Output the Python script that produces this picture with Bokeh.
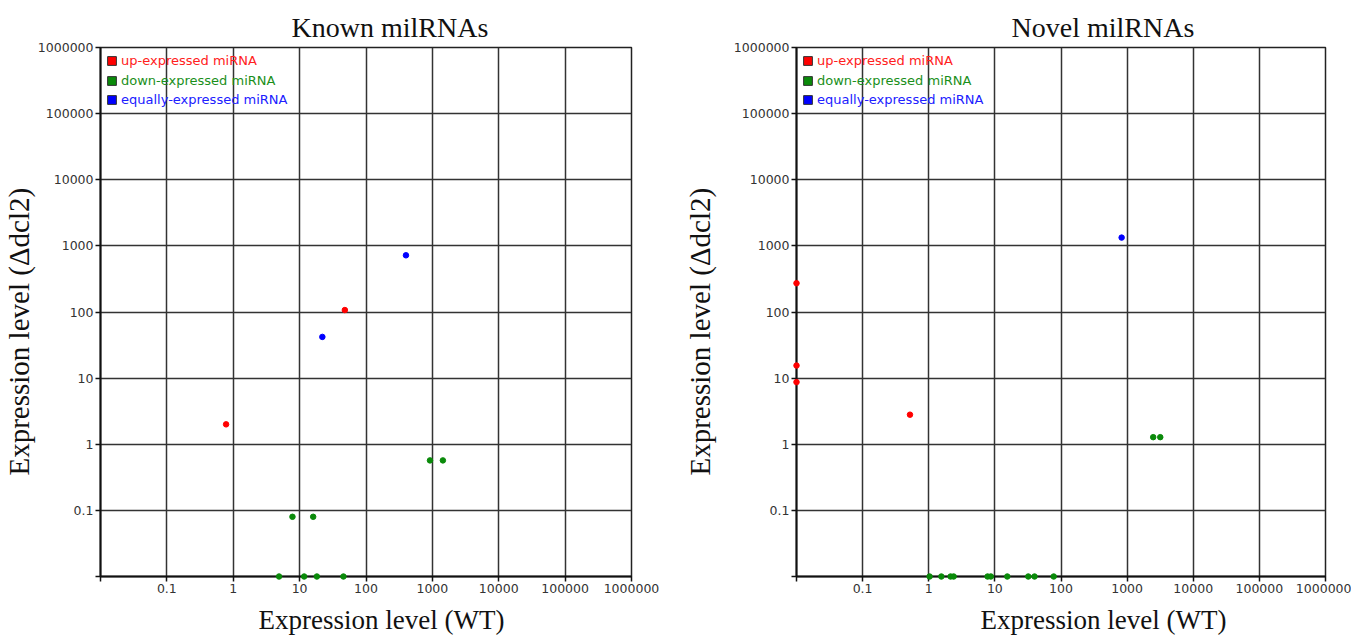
import math
from bokeh.plotting import figure
from bokeh.models import (FixedTicker, CustomJSTickFormatter, Legend, LegendItem,
                          Title, Range1d)
from bokeh.layouts import row
from bokeh.embed import file_html
from bokeh.resources import INLINE

# ---------------- data ----------------
decade_ticks = [0.01, 0.1, 1, 10, 100, 1000, 10000, 100000, 1000000]
decade_labels = ["", "0.1", "1", "10", "100", "1000", "10000", "100000", "1000000"]

series_names = ["up-expressed miRNA", "down-expressed miRNA", "equally-expressed miRNA"]

known_up_x = [0.78, 48]
known_up_y = [2.0, 107]
known_down_x = [7.8, 16, 920, 1440, 4.9, 11.7, 18.2, 45.7]
known_down_y = [0.08, 0.08, 0.57, 0.57, 0.01, 0.01, 0.01, 0.01]
known_equal_x = [22, 400]
known_equal_y = [42, 720]

novel_up_x = [0.01, 0.01, 0.01, 0.52]
novel_up_y = [273, 15.5, 8.7, 2.8]
novel_down_x = [2480, 3170, 1.03, 1.55, 2.14, 2.38, 7.76, 8.7, 15.4, 32, 39.8, 77.6]
novel_down_y = [1.28, 1.28, 0.01, 0.01, 0.01, 0.01, 0.01, 0.01, 0.01, 0.01, 0.01, 0.01]
novel_equal_x = [826]
novel_equal_y = [1334]

titles = ["Known milRNAs", "Novel milRNAs"]
x_title = "Expression level (WT)"
y_title = "Expression level (\u0394dcl2)"

point_colors = ["#ff0000", "#0a8a0a", "#0000ff"]
text_colors = ["#ff2020", "#1a8f1a", "#2020ff"]

SERIF = "Liberation Serif"
SANS = "DejaVu Sans"


def make_panel(width, border_left, border_right, title, title_off, xlab_off,
               ylab_standoff, xs, ys):
    p = figure(width=width, height=643, x_axis_type="log", y_axis_type="log",
               x_range=Range1d(0.01, 1e6), y_range=Range1d(0.01, 1e6),
               output_backend="svg", toolbar_location=None,
               min_border_left=border_left, min_border_right=border_right,
               min_border_top=47, min_border_bottom=67,
               background_fill_color="white", border_fill_color="white")
    fmt = CustomJSTickFormatter(args=dict(tvals=decade_ticks, tlabels=decade_labels), code="""
        const i = tvals.findIndex(t => Math.abs(Math.log10(t) - Math.log10(tick)) < 1e-6);
        return i >= 0 ? tlabels[i] : "";
    """)
    for ax in (p.xaxis[0], p.yaxis[0]):
        ax.ticker = FixedTicker(ticks=decade_ticks, minor_ticks=[])
        ax.formatter = fmt
        ax.major_label_text_font = SANS
        ax.major_label_text_font_size = "12.5px"
        ax.major_label_text_color = "#333333"
        ax.axis_line_color = "#111111"
        ax.axis_line_width = 2
        ax.major_tick_line_color = "#111111"
        ax.major_tick_line_width = 1.5
        ax.major_tick_out = 5
        ax.major_tick_in = 0
        ax.minor_tick_out = 0
        ax.minor_tick_in = 0
        ax.major_label_standoff = 2
    for g in (p.xgrid[0], p.ygrid[0]):
        g.grid_line_color = "#333333"
        g.grid_line_width = 1.5
        g.grid_line_alpha = 1.0
    p.outline_line_color = "#222222"
    p.outline_line_width = 1.5

    # data points
    for x, y, c in zip(xs, ys, point_colors):
        p.scatter(x, y, size=5.5, fill_color=c, line_color=c, level="overlay")

    # legend (one legend per entry so each label keeps its own colour)
    item_h = 19.5
    first_center = 60.5  # canvas px of first square centre
    for i, (name, c, tc, x, y) in enumerate(zip(series_names, point_colors, text_colors, xs, ys)):
        r = p.quad(left=x, right=x, bottom=y, top=y, fill_color=c,
                   line_color="#333333", line_width=1, visible=False)
        cy = first_center + i * item_h
        vy = 576 - (cy + 9.5)
        leg = Legend(items=[LegendItem(label=name, renderers=[r])], location=(6, vy),
                     padding=0, margin=0, spacing=0, glyph_width=11, glyph_height=11,
                     label_standoff=4, label_height=19, label_text_font=SANS,
                     label_text_font_size="13px", label_text_color=tc,
                     background_fill_alpha=0, border_line_alpha=0,
                     click_policy="none")
        p.add_layout(leg, "center")

    # title
    p.title.text = title
    p.title.text_font = SERIF
    p.title.text_font_size = "28px"
    p.title.text_font_style = "normal"
    p.title.text_color = "#111111"
    p.title.align = "left"
    p.title.offset = title_off
    p.title.standoff = 10

    # axis labels as titles on the side panels
    p.add_layout(Title(text=x_title, text_font=SERIF, text_font_size="27px",
                       text_font_style="normal", text_color="#111111",
                       align="left", offset=xlab_off, standoff=15), "below")
    p.add_layout(Title(text=y_title, text_font=SERIF, text_font_size="29px",
                       text_font_style="normal", text_color="#111111",
                       align="left", offset=101, standoff=ylab_standoff), "left")
    return p


p1 = make_panel(660, 100, 29, titles[0], 191, 158, 0,
                [known_up_x, known_down_x, known_equal_x],
                [known_up_y, known_down_y, known_equal_y])
p2 = make_panel(691, 136, 26, titles[1], 215, 184, 29,
                [novel_up_x, novel_down_x, novel_equal_x],
                [novel_up_y, novel_down_y, novel_equal_y])

layout = row(p1, p2)
open("out.html", "w").write(file_html(layout, INLINE))
